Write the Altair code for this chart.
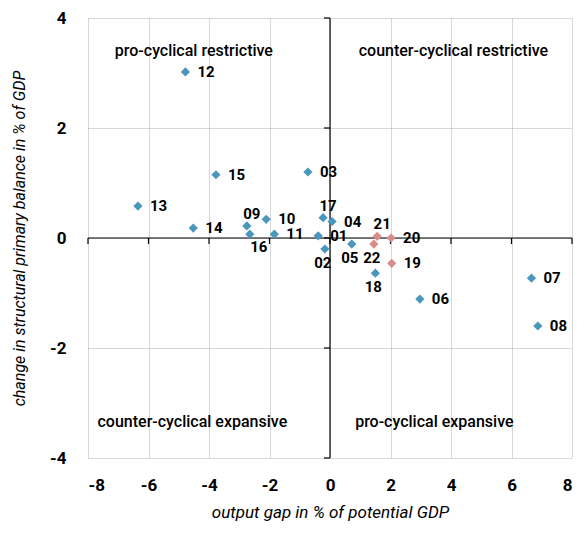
import altair as alt
import pandas as pd

# ---- data ----
years = ["01", "02", "03", "04", "05", "06", "07", "08", "09", "10", "11",
         "12", "13", "14", "15", "16", "17", "18", "19", "20", "21", "22"]
output_gap = [-0.39, -0.17, -0.73, 0.07, 0.72, 2.97, 6.66, 6.87, -2.75, -2.11, -1.84,
              -4.78, -6.35, -4.52, -3.77, -2.65, -0.23, 1.50, 2.04, 2.02, 1.56, 1.45]
spb_change = [0.04, -0.20, 1.20, 0.30, -0.11, -1.11, -0.73, -1.60, 0.22, 0.34, 0.07,
              3.02, 0.58, 0.18, 1.15, 0.07, 0.37, -0.64, -0.46, 0.00, 0.03, -0.11]
group = ["past"] * 18 + ["forecast"] * 4
placement = ["right", "below", "right", "right", "below", "right", "right", "right", "above", "right", "right",
             "right", "right", "right", "right", "below_r", "above", "below", "right", "right", "above", "below"]

quadrant_text = ["pro-cyclical restrictive", "counter-cyclical restrictive",
                 "counter-cyclical expansive", "pro-cyclical expansive"]
quadrant_x = [-4.5, 4.08, -4.55, 3.45]
quadrant_y = [3.4, 3.4, -3.35, -3.35]

x_ticks = [-8, -6, -4, -2, 0, 2, 4, 6, 8]
y_ticks = [-4, -2, 0, 2, 4]

df = pd.DataFrame({"year": years, "gap": output_gap, "spb": spb_change,
                   "group": group, "place": placement})
qdf = pd.DataFrame({"text": quadrant_text, "x": quadrant_x, "y": quadrant_y})
xt = pd.DataFrame({"v": x_ticks})
yt = pd.DataFrame({"v": y_ticks})

FONT = "Roboto, Liberation Sans, sans-serif"
LABEL_EXPR = "datum.value < 0 ? '-' + abs(datum.value) : '' + datum.value"

xscale = alt.Scale(domain=[-8, 8], nice=False, zero=False)
yscale = alt.Scale(domain=[-4, 4], nice=False, zero=False)

xaxis = alt.Axis(values=x_ticks, labelExpr=LABEL_EXPR, title="output gap in % of potential GDP",
                 domain=False, ticks=False, grid=True, gridColor="#b0b0b0", gridDash=[1, 1], gridWidth=1,
                 labelFont=FONT, labelFontSize=17, labelFontWeight="bold", labelColor="black",
                 labelPadding=19, titleFont=FONT, titleFontSize=17, titleFontStyle="italic",
                 titleFontWeight="normal", titleColor="black", titlePadding=11)
yaxis = alt.Axis(values=y_ticks, labelExpr=LABEL_EXPR, title="change in structural primary balance in % of GDP",
                 domain=False, ticks=False, grid=True, gridColor="#b0b0b0", gridDash=[1, 1], gridWidth=1,
                 labelFont=FONT, labelFontSize=17, labelFontWeight="bold", labelColor="black",
                 labelPadding=22, titleFont=FONT, titleFontSize=16, titleFontStyle="italic",
                 titleFontWeight="normal", titleColor="black", titlePadding=22)

base = alt.Chart(df)

points = base.mark_point(shape="diamond", filled=True, size=85, opacity=1).encode(
    x=alt.X("gap:Q", scale=xscale, axis=xaxis),
    y=alt.Y("spb:Q", scale=yscale, axis=yaxis),
    color=alt.Color("group:N", scale=alt.Scale(domain=["past", "forecast"],
                                               range=["#4a97bd", "#d98c8c"]), legend=None),
)

# zero axes
hline = alt.Chart(pd.DataFrame({"a": [-8], "b": [8]})).mark_rule(color="black", strokeWidth=1.2).encode(
    x="a:Q", x2="b:Q", y=alt.datum(0))
vline = alt.Chart(pd.DataFrame({"a": [-4], "b": [4]})).mark_rule(color="black", strokeWidth=1.2).encode(
    y="a:Q", y2="b:Q", x=alt.datum(0))
xtick = alt.Chart(xt).mark_rule(color="black", strokeWidth=1.2, y2Offset=6).encode(
    x="v:Q", y=alt.datum(0), y2=alt.datum(0))
ytick = alt.Chart(yt).mark_rule(color="black", strokeWidth=1.2, x2Offset=-6).encode(
    y="v:Q", x=alt.datum(0), x2=alt.datum(0))

def lab(place, **kw):
    return base.transform_filter(alt.datum.place == place).mark_text(
        font=FONT, fontSize=15, fontWeight="bold", color="black", **kw).encode(
        x="gap:Q", y="spb:Q", text="year:N")

labels = [
    lab("right", align="left", baseline="middle", dx=12),
    lab("above", align="center", baseline="middle", dx=5, dy=-12),
    lab("below", align="center", baseline="middle", dx=-2, dy=14),
    lab("below_r", align="center", baseline="middle", dx=9, dy=13),
]

quad = alt.Chart(qdf).mark_text(font=FONT, fontSize=16, fontWeight=500, color="black", align="center",
                                baseline="middle").encode(x="x:Q", y="y:Q", text="text:N")

chart = alt.layer(hline, vline, xtick, ytick, points, *labels, quad).properties(
    width=484, height=440,
    autosize=alt.AutoSizeParams(type="none"),
    padding={"left": 80, "top": 10, "right": 4, "bottom": 66},
).configure_view(stroke=None)

chart.save("out.html", embed_options={"renderer": "svg", "actions": False})
